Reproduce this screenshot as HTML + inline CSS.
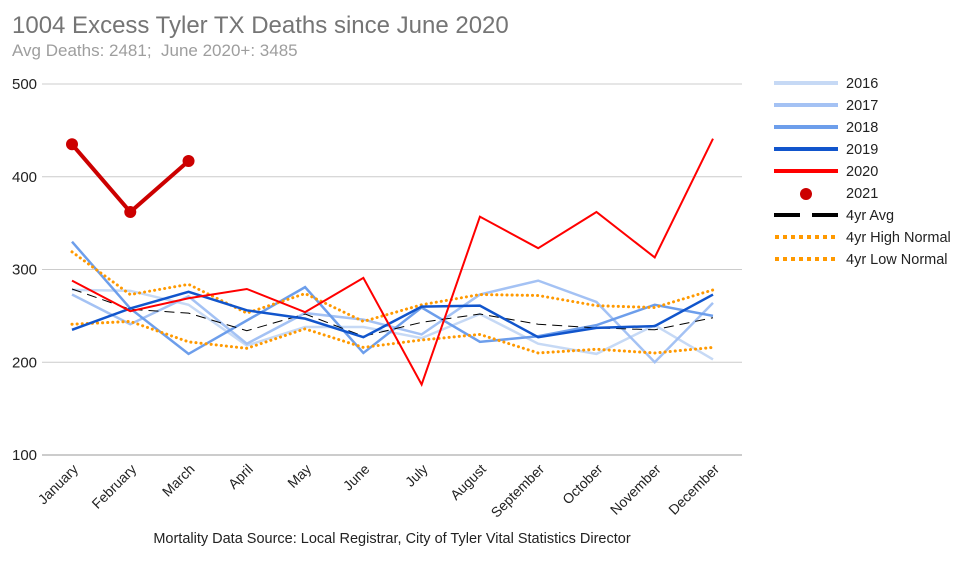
<!DOCTYPE html>
<html><head><meta charset="utf-8"><style>
body{margin:0;background:#fff;font-family:"Liberation Sans",Arial,sans-serif;}
svg text{font-family:"Liberation Sans",Arial,sans-serif;}
</style></head><body>
<svg id="chart" width="968" height="556">
<text x="12" y="33" font-size="24" fill="#757575">1004 Excess Tyler TX Deaths since June 2020</text>
<text x="12" y="56" font-size="17" fill="#9e9e9e">Avg Deaths: 2481;&#160; June 2020+: 3485</text>
<g id="grid"></g><g id="series"></g><g id="legend"></g>
<text x="392" y="543" font-size="14.5" fill="#222" text-anchor="middle">Mortality Data Source: Local Registrar, City of Tyler Vital Statistics Director</text>
</svg>
<script>
const months=["January","February","March","April","May","June","July","August","September","October","November","December"];
const yTicks=[100,200,300,400,500];
const s2016=[278,277,262,218,238,238,226,252,220,209,240,203];
const s2017=[273,241,271,220,253,246,230,273,288,265,200,264];
const s2018=[330,258,209,245,281,210,259,222,228,240,262,250];
const s2019=[235,258,276,256,247,227,260,261,227,237,239,273];
const s2020=[288,255,269,279,254,291,176,357,323,362,313,441];
const s2021=[435,362,417];
const avg4=[279,257,253,234,252,228,243,252,241,237,235,248];
const high4=[319,273,284,253,274,244,262,273,272,261,259,278];
const low4=[241,244,222,215,236,216,224,230,210,214,210,216];
const NS="http://www.w3.org/2000/svg";
const x=i=>72+i*(713-72)/11;
const y=v=>455-(v-100)*(455-84)/400;
function mk(t,a,p){const e=document.createElementNS(NS,t);for(const k in a)e.setAttribute(k,a[k]);p.appendChild(e);return e;}
const grid=document.getElementById('grid');
yTicks.forEach(t=>{
 const l=mk('line',{x1:42,x2:742,y1:y(t),y2:y(t),stroke:t==100?'#999':'#ccc','stroke-width':1},grid);
 
 
 const tx=mk('text',{x:12,y:y(t)+5,'font-size':15,fill:'#222'},grid);tx.textContent=t;
 
 
});
months.forEach((m,i)=>{
 const tx=mk('text',{x:x(i)+7,y:470,'font-size':14,fill:'#222','text-anchor':'end',transform:`rotate(-45 ${x(i)+7} 470)`},grid);tx.textContent=m;
 
 
});
const ser=[
 {n:'2016',d:s2016,c:'#c6d9f5',w:2.5},
 {n:'2017',d:s2017,c:'#a4c2f4',w:2.5},
 {n:'2018',d:s2018,c:'#6d9eeb',w:2.5},
 {n:'4yr High Normal',d:high4,c:'#ff9900',w:3,da:'2 4'},
 {n:'4yr Low Normal',d:low4,c:'#ff9900',w:3,da:'2 4'},
 {n:'4yr Avg',d:avg4,c:'#000',w:1,da:'10 6'},
 {n:'2019',d:s2019,c:'#1155cc',w:2.5},
 {n:'2020',d:s2020,c:'#ff0000',w:2},
 {n:'2021',d:s2021,c:'#cc0000',w:4,dot:true}];
const sg=document.getElementById('series');
ser.forEach(s=>{
 const p=mk('polyline',{points:s.d.map((v,i)=>x(i)+','+y(v)).join(' '),fill:'none',stroke:s.c,'stroke-width':s.w,'stroke-dasharray':s.da||'none','stroke-linecap':s.da&&s.w>2?'round':'butt'},sg);
 if(s.da&&s.w>2)p.setAttribute('stroke-dasharray','0.1 5');
 
 
 if(s.dot)s.d.forEach((v,i)=>{const c=mk('circle',{cx:x(i),cy:y(v),r:6,fill:s.c},sg);
  
  });
});
const leg=[['2016','#c6d9f5','line'],['2017','#a4c2f4','line'],['2018','#6d9eeb','line'],['2019','#1155cc','line'],['2020','#ff0000','line'],['2021','#cc0000','dot'],['4yr Avg','#000','dash'],['4yr High Normal','#ff9900','dot2'],['4yr Low Normal','#ff9900','dot2']];
const lg=document.getElementById('legend');
leg.forEach((L,i)=>{
 const yy=83+i*22;
 const g=mk('g',{},lg);
 
 
 if(L[2]=='dot')mk('circle',{cx:806,cy:yy+1,r:6,fill:L[1]},g);
 else if(L[2]=='dash')mk('line',{x1:774,x2:838,y1:yy,y2:yy,stroke:L[1],'stroke-width':4,'stroke-dasharray':'26 12'},g);
 else if(L[2]=='dot2')mk('line',{x1:775,x2:838,y1:yy,y2:yy,stroke:L[1],'stroke-width':4,'stroke-dasharray':'4 4'},g);
 else mk('line',{x1:774,x2:838,y1:yy,y2:yy,stroke:L[1],'stroke-width':4},g);
 const t=mk('text',{x:846,y:yy+5,'font-size':14.5,fill:'#222'},g);t.textContent=L[0];
});
</script>
</body></html>
